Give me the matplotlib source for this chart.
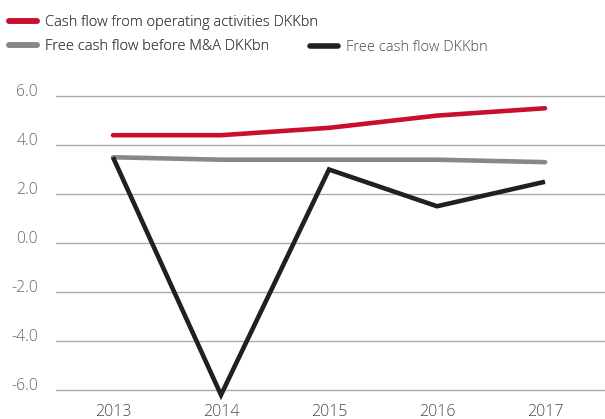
import matplotlib
matplotlib.use("Agg")
import matplotlib.pyplot as plt
from matplotlib.lines import Line2D

years = [2013, 2014, 2015, 2016, 2017]
cfo = [4.4, 4.4, 4.7, 5.2, 5.5]
fcf_before_ma = [3.5, 3.4, 3.4, 3.4, 3.3]
fcf = [3.5, -6.2, 3.0, 1.5, 2.5]
yticks = [-6.0, -4.0, -2.0, 0.0, 2.0, 4.0, 6.0]
labels = ["Cash flow from operating activities DKKbn",
          "Free cash flow before M&A DKKbn",
          "Free cash flow DKKbn"]

RED = "#C8102E"
GRAY = "#87888A"
BLACK = "#231F20"
TXT = "#4A4A4A"

plt.rcParams['font.family'] = ['Open Sans', 'DejaVu Sans']
plt.rcParams['font.weight'] = 'light'

W, H = 605, 419
fig = plt.figure(figsize=(W / 100, H / 100), dpi=100)
ax = fig.add_axes([56 / W, 1 - 392.45 / H, 1 - 56 / W, (392.45 - 91.1) / H])
ax.set_xlim(2013 - 57 / 108, 2017 + 60 / 108)
ax.set_ylim(-6.1, 6.2)

for y in yticks:
    ax.axhline(y, color="#AAAAAA", lw=1.0, zorder=1)

lw = 3.3
ax.plot(years, cfo, color=RED, lw=lw, solid_capstyle='round', solid_joinstyle='miter', zorder=3, clip_on=False)
ax.plot(years, fcf_before_ma, color=GRAY, lw=lw, solid_capstyle='round', solid_joinstyle='miter', zorder=3, clip_on=False)
ax.plot(years, fcf, color=BLACK, lw=lw, solid_capstyle='butt', solid_joinstyle='miter', zorder=4, clip_on=False)

for s in ax.spines.values():
    s.set_visible(False)
ax.set_yticks(yticks)
ax.set_yticklabels([f"{v:.1f}" for v in yticks], va='baseline', color="#666666", fontsize=11.3)
ax.set_xticks(years)
ax.set_xticklabels([str(y) for y in years], color=TXT, fontsize=11.5)
ax.tick_params(axis='y', length=0, pad=13)
ax.tick_params(axis='x', length=0, pad=8)

h_red = Line2D([], [], color=RED, lw=4, solid_capstyle='round')
h_gray = Line2D([], [], color=GRAY, lw=4, solid_capstyle='round')
h_black = Line2D([], [], color=BLACK, lw=4, solid_capstyle='round')

fs = 10.5
leg1 = fig.legend([h_red, h_gray], labels[:2], loc='upper left',
                  bbox_to_anchor=(9 / W, 1 - 15 / H), frameon=False, fontsize=fs,
                  handlelength=1.95, handletextpad=0.55, labelspacing=0.62,
                  borderpad=0, borderaxespad=0, labelcolor=TXT)
fig.add_artist(leg1)
fig.legend([h_black], labels[2:], loc='upper left',
           bbox_to_anchor=(310 / W, 1 - 40 / H), frameon=False, fontsize=fs,
           handlelength=1.95, handletextpad=0.55, borderpad=0, borderaxespad=0,
           labelcolor=TXT)

fig.savefig("out.png", dpi=100)
